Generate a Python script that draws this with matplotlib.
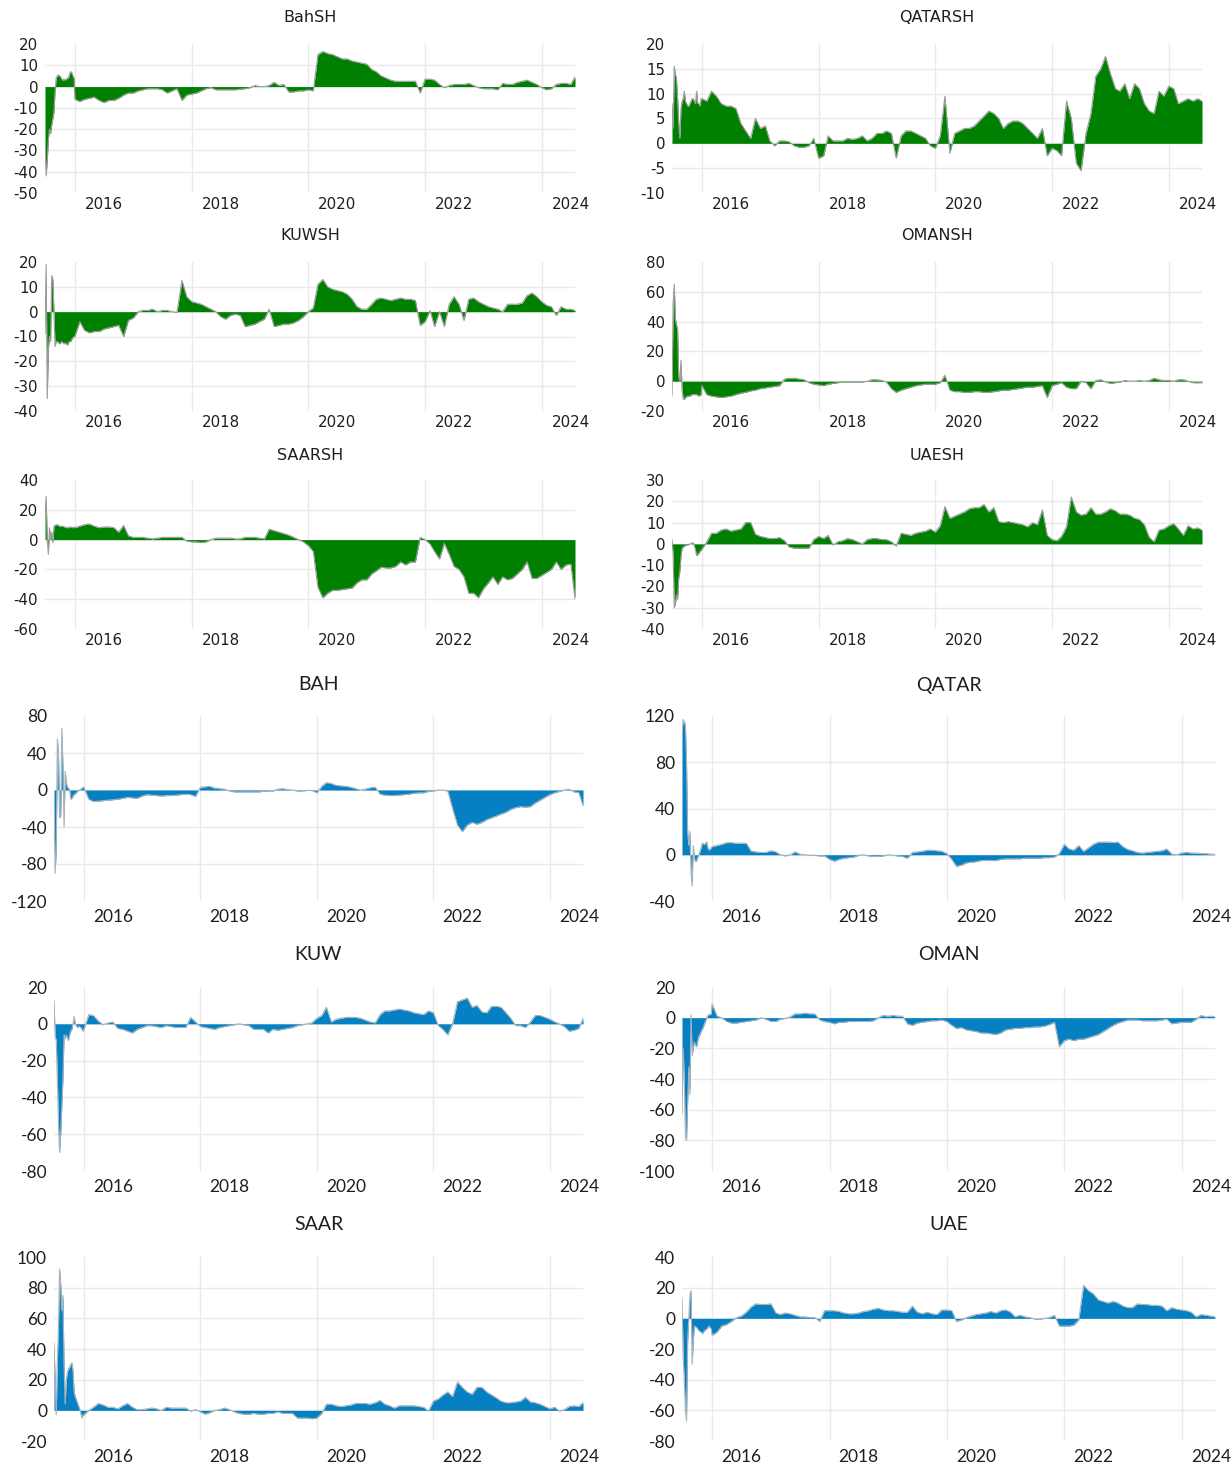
import numpy as np
import pandas as pd
import matplotlib
matplotlib.use('Agg')
import matplotlib.pyplot as plt
import matplotlib.dates as mdates
from matplotlib.ticker import FixedLocator, FixedFormatter, NullFormatter

# sample dates: weekly over the second half of 2015, month starts afterwards
weekly = pd.date_range('2015-06-28', periods=27, freq='7D')
monthly = pd.date_range('2016-01-01', '2024-07-01', freq='MS')
dates = weekly.append(monthly).append(pd.DatetimeIndex(['2024-07-27']))

# ---- spillover series (top block) ----
bahsh = [
    -28, -42, -35, -25, -20, -22, -18, -15, -12, -2, 4, 5, 5.5, 5, 4.5, 3.5, 3, 3.5, 3, 3.5, 4, 4, 6, 7, 6.5, 5, 4,
    -6, -7, -6, -5.5, -5, -6.5, -7.5, -6.5, -6.5, -5.5, -4, -3,
    -3, -2, -1.5, -1, -1, -1, -1.5, -3, -2, -1, -6.5, -4,
    -3.5, -3, -2, -1, -0.5, -1.5, -1.5, -1.5, -1.5, -1.5, -1.2, -1,
    -0.5, 0.5, 0, 0, 0.5, 2, 0.5, 1, -2.5, -2.5, -2, -2,
    -1.5, -2, 15, 16.5, 15.5, 15, 14, 13, 13, 12, 11.5, 11,
    10.5, 8, 7, 5, 4, 3, 2.5, 2.5, 2.5, 2.5, 2.5, -3,
    3.5, 3.5, 3, 1, -0.5, 0.5, 1, 1, 1, 1.5, 0.5, -0.5,
    -1, -1, -1, -1.5, 1.5, 1, 1, 2, 2.5, 3, 2, 1,
    -0.5, -1.5, -1, 1, 1.5, 1.5, 1, 4.5]

qatarsh = [
    8, 3, 15.5, 14, 13, 9, 4, 1, 7, 8.5, 9, 10.5, 8.5, 8, 7.5, 7.5, 8, 8.5, 9, 9, 8.5, 8, 10.5, 8, 8, 7.5, 9,
    9, 8.5, 10.5, 9.5, 8, 7.5, 7.5, 7, 4, 2.5, 1, 5,
    3, 3.5, 0.5, -0.5, 0.5, 0.5, 0.3, -0.5, -0.8, -0.8, -0.5, 1,
    -3, -2.5, 1.5, 0.5, 0.5, 0.5, 1, 0.8, 1, 1.5, 0.5, 1,
    2, 2, 2.5, 2, -3, 1.5, 2.5, 2.5, 2, 1.5, 1, -0.5,
    -1, 1.5, 9.5, -2, 2, 2.5, 3, 3, 3.5, 4.5, 5.5, 6.5,
    6, 5, 3, 4, 4.5, 4.5, 4, 3, 2, 1, 3, -2.5,
    -1, -1.5, -2.5, 8.5, 5, -4, -5.5, 2, 6, 13.5, 15, 17.5,
    14, 11, 10.5, 12, 9, 12, 11, 8, 6.5, 6, 10.5, 9.5,
    11.5, 11, 8, 8.5, 9, 8.5, 9, 8.5]

kuwsh = [
    -9, 19, -35, -15, -10, -12, 14.5, 13, 0, -14, -12, -12, -12.5, -13, -12.5, -12, -12.5, -13, -12.5, -13,
    -13.5, -12.5, -12, -12, -11, -10.5, -10,
    -10, -4, -7.5, -8.5, -8, -8, -7, -6.5, -6, -5.5, -10, -3.5,
    -2.5, 0, 0.5, 0.5, 1, 0, 0.5, 0.5, 0, -0.3, 12.5, 6,
    4, 3.5, 3, 2, 1, 0, -2, -3, -1.5, -1, -1.5, -6,
    -5.5, -5, -4, -3, 1, -6, -5.5, -5, -5, -4.5, -3.5, -2,
    0, 1.5, 11, 13, 10, 9, 8.5, 8, 7, 5, 2, 1,
    1, 3, 5, 5.5, 5, 4.5, 5, 5.5, 5, 5, 4.5, -5.5,
    -4, 0.5, -6, 0, -6, 3, 6, 3, -3.5, 5, 5.5, 4,
    3, 2, 1.5, 1, 0, 3, 3, 3, 3.5, 6.5, 7.5, 6,
    4, 2.5, 2, -1.5, 2, 1, 1, 0.5]

omansh = [
    -10, 52, 65, 42, 38, 35, 3, 0, 14, -5, -12, -12, -11, -10.5, -10, -10, -10, -9.5, -9, -9,
    -9, -9, -9, -9.5, -10, -9.5, -9,
    -3, -9, -10, -10.5, -11, -10.5, -10, -9, -8, -7.5, -6.5, -6,
    -5, -4.5, -4, -3.5, -3, 1.5, 2, 2, 1.5, 1, -1, -2,
    -2.5, -3, -2, -1.5, -1, -0.5, -0.5, -0.5, -0.5, -0.5, 0, 1,
    1, 0.5, -0.5, -5, -7.5, -6, -5, -4, -3, -2.5, -2, -2,
    -2, -1, 4, -6, -7, -7, -7.5, -7.5, -7, -7, -7.5, -7.5,
    -7, -6.5, -6, -6, -5.5, -5, -4.5, -4, -4, -3.5, -3, -11,
    -3, -2, -1, -4, -5, -5, 0, -1, -5, 0.5, 1, -0.5,
    -1.5, -1, -0.5, 0.5, 0, 0, 0.5, 0, 0.5, 2, 1, 0.5,
    0.5, 0, 1, 1, 0, -1, -1, -1]

saarsh = [
    15, 29, 0, -10, 8, 0, 5, -2, 9, 9.5, 10, 10, 9.5, 9, 9, 9, 9, 8.5, 8.5, 8, 8, 8, 8.5, 8.5, 8, 8, 8.5,
    8, 9, 10, 10.5, 9, 8, 8.5, 8.5, 8, 5, 9.5, 2.5,
    1.5, 1.5, 1.5, 1, 0.5, 1, 1.5, 1.5, 1.5, 1.5, 1.5, -1,
    -1.5, -1.5, -2, -1.5, 0, 1, 1, 1, 1, 0.5, 0.5, 1.5,
    1.5, 1.5, 1, 0.5, 7, 6, 5, 4, 3, 1.5, 0, -1.5,
    -4, -8, -32, -39, -36, -34, -34, -33.5, -33, -32.5, -29, -27,
    -27, -23, -21, -18.5, -19, -19, -18, -15, -17, -15, -15, 1.5,
    0, -3, -8, -13, -2.5, -10, -18, -20, -25, -36, -36, -39,
    -33, -29, -25, -30, -25, -27, -26, -23, -20, -15, -26, -26,
    -24, -22, -20, -15, -20, -17, -16.5, -40]

uaesh = [
    2, -5, -30, -28, -24, -26, -16, -13, -6, -2, -1.5, -1, -0.8, -0.5, -0.5, -0.3, 0, 0, 0.5, 0.5,
    -1, -3, -5.5, -5, -4.5, -3.5, -3,
    -2.5, 1, 5, 5, 6.5, 7, 6, 6.5, 7, 10, 10, 4.5,
    3.5, 3, 2.5, 2.5, 3, 1.5, -1.5, -2, -2, -2, -2, 2,
    3.5, 2.5, 4, -0.5, 1, 1.5, 2.5, 2, 1, 0, 2, 2.5,
    2.5, 2, 2, 1, -1, 5, 4.5, 4, 5, 5.5, 6, 7,
    5.5, 8.5, 17.5, 12, 13, 14, 15, 16.5, 17, 17, 18.5, 15,
    17, 10.5, 10, 10.5, 10, 9.5, 9, 8, 10, 9, 16, 4,
    2, 1.5, 3.5, 8, 22, 15, 13.5, 14, 17, 14, 14, 15,
    16.5, 15.5, 14, 14, 13.5, 12, 11.5, 9, 3, 1, 6.5, 7,
    8.5, 9.5, 7, 4, 8.5, 7, 7.5, 6.5]

# ---- market series (bottom block) ----
bah = [
    -20, -90, -65, 55, 40, -30, -28, 67, 25, -40, 20, 8, 3, 2, 0, -10, -9, -7, -5, -4,
    -3, -1.5, -0.5, 0, 1, 2, 3,
    3, -10, -12.5, -12, -11.5, -11, -10.5, -10, -9, -8, -8.5, -9,
    -6.5, -5, -5.5, -6, -6.5, -6, -6, -5.5, -5, -4.5, -5, -7,
    3, 3.5, 4, 2, 1.5, 1, -1, -2, -2, -2, -2, -2,
    -2, -1.5, -1, -1, 1, 1.5, 0.5, 0, -1, -1, -0.5, -0.5,
    -3, 4, 8, 7, 5, 4.5, 4, 3, 1.5, 0, 1, 2.5,
    3, -4.5, -5.5, -6, -6, -5.5, -5, -4.5, -3.5, -3, -3, -1.5,
    -1, 0, 0, -1, -20, -38, -45, -38, -35, -37, -35, -32,
    -30, -28, -26, -24, -21, -19, -18, -18.5, -18, -14, -11, -8,
    -5, -3, -1.5, 0, 1, -2, -3, -17]

qatar = [
    105, 117, 115, 112, 80, 20, 8, 20, -15, -27, 8, -3, -6, -5, -2, 0, 3, 6, 10, 9.5,
    9, 10, 11, 6, 4, 5, 6,
    7, 8, 9, 10.5, 10.5, 10, 10, 10, 3, 2.5, 2, 2,
    3.5, 2.5, 0, -1, 0, 2.5, 0.5, 0, -0.5, -0.5, -1, -1,
    -4, -5.5, -4, -3, -2.5, -2, -0.5, 0, -1, -1.5, -1.5, -1,
    0, -0.5, -1, -1.5, -3, 2, 2.5, 3, 4, 4, 3.5, 3,
    1, -4, -10, -9, -7, -6.5, -6, -5, -5, -5, -5, -4,
    -3.5, -3.5, -3.5, -3.5, -3, -3, -3, -3, -2.5, -2.5, -2, 1,
    9, 5, 4, 8, 3, 6, 9, 11, 11, 11, 10.5, 11,
    7, 4.5, 3.5, 2, 1.5, 2, 2.5, 3, 3.5, 5, 0.5, 0,
    1.5, 2, 1.5, 1.5, 1, 1, 0.5, 0.5]

kuw = [
    13, -7, -9, -30, -55, -70, -60, -45, -30, -6, -8, -6, -8, -9, -6, -4, -3, 0, 4, 0,
    -1, -2, -1.5, -1.5, -2, -3, -4,
    -3, 5, 4.5, 1.5, -0.5, 0.5, 1, -2.5, -3, -4, -5, -3,
    -2, -1, -1, -1.5, -2, -1, -1.5, -2, -2, -2, 3.5, 1,
    -1.5, -2, -2.5, -3, -2, -1.5, -1, -0.5, 0, -0.5, -1, -3,
    -3, -3, -5, -3, -3.5, -3, -2.5, -2, -1, -0.5, 0, 0.5,
    3, 4.5, 9, 1, 2.5, 3, 3.5, 3.5, 3.5, 3, 2, 1,
    0.5, 5, 7, 7, 7.5, 8, 7.5, 7, 6, 5.5, 5, 7,
    6, -1, -3, -6, 0, 12, 13, 14, 9, 10, 6.5, 6,
    9.5, 9.5, 9, 6, 3, -1, -1, -2, 1, 4.5, 4.5, 3.5,
    2.5, 1, 0, -1.5, -4, -3.5, -2.5, 3]

oman = [
    -63, -20, -40, -78, -80, -55, -32, -50, 2, -25, -20, -16, -18, -19, -15, -12, -11, -9, -7.5, -6,
    -4, -2, 0, 1.5, 2, 2, 2.5,
    9, 1, 0, -2.5, -3.5, -3.5, -3, -2.5, -2, -1.5, 0, -1,
    -2.5, -2.5, -1, -0.5, 0.5, 2.5, 2.5, 3, 2.5, 2.5, -1.5, -2.5,
    -3, -4, -3, -3, -2.5, -2.5, -2.5, -2.5, -2.5, -2, 0, 1.5,
    1, 1.5, 1, 1, -4, -5, -3.5, -3, -2.5, -2, -2, -1.5,
    -2.5, -5, -7, -6.5, -8, -8.5, -9, -10, -10, -10.5, -11, -10,
    -8, -7.5, -7, -7, -6.5, -6.5, -6, -6, -5.5, -4.5, -3, -19,
    -15, -14, -15, -14, -14, -13, -12, -11, -9, -7, -5, -3.5,
    -2.5, -1.5, -1.5, -1.5, -2, -2, -2, -2, -1.5, -1, -4, -3.5,
    -3, -3, -3, -1, 1.5, 0.5, 1, 0.5]

saar = [
    44, 20, -3, 32, 55, 92, 82, 65, 75, 30, 4, 20, 25, 27, 28, 30, 31, 26, 12, 9,
    7, 5, 3, 1, -2, -5, -3,
    -3, 0, 2, 4.5, 3.5, 2, 2, 1, 3, 4.5, 2, 0.5,
    0.5, 1, 1.5, 1, 0, 2, 1.5, 1.5, 1.5, 1.5, -0.5, 0.5,
    -1, -2.5, -1.5, 0, 0.5, 1.5, 0.5, -1, -2, -2.5, -2.5, -2,
    -2.5, -2.5, -2, -2, -1, -2, -2, -2, -5, -5, -5, -5.5,
    -5, -2, 4, 4, 3, 2.5, 3, 3.5, 4.5, 4.5, 4.5, 4,
    5, 6.5, 4, 3, 1.5, 3, 3, 3, 3, 2.5, 2, -0.5,
    6, 7.5, 10, 12, 9, 18.5, 15, 12, 10.5, 15, 15, 12,
    10, 8, 6, 5, 5, 5.5, 6, 8.5, 5.5, 5, 4, 2.5,
    1, 2, -0.5, 0.5, 2.5, 3, 2.5, 5]

uae = [
    13, -25, -40, -60, -67, -15, 0, 15, 18, -30, -15, -5, -5.5, -6, -7, -8, -8.5, -9, -10, -9,
    -8, -7.5, -7, -6, -5, -6, -7,
    -11, -9, -5, -4, -2, 0.5, 1.5, 4, 7.5, 9.5, 9, 9,
    9.5, 3.5, 2.5, 3.5, 3, 2, 1, 1, 0.5, 0.5, -2, 5,
    5, 5, 4.5, 3.5, 3, 3, 3.5, 4.5, 5, 6, 6.5, 5.5,
    5, 5, 4.5, 4, 4, 8, 4, 3, 4, 3, 2.5, 5.5,
    5.5, 5, -2, -1, 0.5, 1.5, 2.5, 3, 3.5, 4.5, 3.5, 5,
    5.5, 4, 1, 2, 1, 0.5, -0.5, -0.5, 0, 0.5, 2, -5,
    -5, -5, -4.5, -1, 21.5, 18, 16, 12, 11, 10, 11, 10,
    8, 7, 7, 9.5, 9, 9, 8.5, 8.5, 8, 5, 7, 6,
    5.5, 5, 4, 1, 2.5, 2, 1.5, 1]

W, H = 1232, 1466
GREEN = '#008000'
BLUE = '#0580c3'
GRID = '#e9e9e9'

# horizontal extent (px) of each column in both blocks, vertical extent of each row
cols = {'TL': (45, 575), 'TR': (672, 1202), 'BL': (54, 583), 'BR': (682, 1215)}
rows = [(44, 193), (262, 411), (480, 629), (716, 901), (987, 1171), (1257, 1441)]
title_y = [18, 236, 455, 685, 955, 1225]

panels = [
    ('BahSH', bahsh, range(-50, 21, 10), 'TL', 0),
    ('QATARSH', qatarsh, range(-10, 21, 5), 'TR', 0),
    ('KUWSH', kuwsh, range(-40, 21, 10), 'TL', 1),
    ('OMANSH', omansh, range(-20, 81, 20), 'TR', 1),
    ('SAARSH', saarsh, range(-60, 41, 20), 'TL', 2),
    ('UAESH', uaesh, range(-40, 31, 10), 'TR', 2),
    ('BAH', bah, range(-120, 81, 40), 'BL', 3),
    ('QATAR', qatar, range(-40, 121, 40), 'BR', 3),
    ('KUW', kuw, range(-80, 21, 20), 'BL', 4),
    ('OMAN', oman, range(-100, 21, 20), 'BR', 4),
    ('SAAR', saar, range(-20, 101, 20), 'BL', 5),
    ('UAE', uae, range(-80, 41, 20), 'BR', 5),
]

years = [2016, 2018, 2020, 2022, 2024]
x = mdates.date2num(dates.to_pydatetime())
x0 = mdates.date2num(pd.Timestamp('2015-06-28').to_pydatetime())
x1 = mdates.date2num(pd.Timestamp('2024-07-27').to_pydatetime())
year_starts = [mdates.date2num(pd.Timestamp(f'{yr}-01-01').to_pydatetime()) for yr in years]
year_mids = [mdates.date2num(pd.Timestamp(f'{yr}-07-01').to_pydatetime()) for yr in years]

fig = plt.figure(figsize=(W / 100, H / 100), dpi=100)

for name, vals, ticks, col, row in panels:
    assert len(vals) == len(dates), name
    l, r = cols[col]
    t, b = rows[row]
    big = row >= 3
    ax = fig.add_axes([l / W, 1 - b / H, (r - l) / W, (b - t) / H])
    y = np.array(vals, dtype=float)

    fill = BLUE if big else GREEN
    edge = '#a9b3bc' if big else '#9c9c9c'
    ax.fill_between(x, y, 0, color=fill, lw=0, zorder=2)
    ax.plot(x, y, color=edge, lw=0.8, zorder=3)

    ticks = list(ticks)
    ax.set_xlim(x0, x1)
    ax.set_ylim(ticks[0], ticks[-1])
    for v in ticks[1:-1]:
        ax.axhline(v, color=GRID, lw=1, zorder=0)
    for v in year_starts:
        ax.axvline(v, color=GRID, lw=1, zorder=0)

    ax.xaxis.set_major_locator(FixedLocator(year_starts))
    ax.xaxis.set_major_formatter(NullFormatter())
    ax.xaxis.set_minor_locator(FixedLocator(year_mids))
    ax.xaxis.set_minor_formatter(FixedFormatter([str(yr) for yr in years]))
    ax.set_yticks(ticks)
    ax.set_yticklabels([str(v) for v in ticks])

    if big:
        tfont = dict(family='Lato', size=12.5, color='#1e1e1e')
        ax.tick_params(axis='x', which='minor', pad=6)
    else:
        tfont = dict(family='DejaVu Sans', size=10.8, color='#1e1e1e')
        ax.tick_params(axis='x', which='minor', pad=3)
    ax.tick_params(which='both', length=0)
    ax.tick_params(axis='y', pad=5)
    for lab in ax.get_xticklabels(minor=True) + ax.get_yticklabels():
        lab.set_fontfamily(tfont['family'])
        lab.set_fontsize(tfont['size'])
        lab.set_color(tfont['color'])

    for s in ax.spines.values():
        s.set_visible(False)
    ax.set_facecolor('white')

    if big:
        fig.text((l + r) / 2 / W, 1 - title_y[row] / H, name, ha='center', va='center',
                 family='Lato', fontsize=14, color='#1e1e1e')
    else:
        fig.text((l + r) / 2 / W, 1 - title_y[row] / H, name, ha='center', va='center',
                 family='DejaVu Sans', fontsize=11.5, color='#1e1e1e')

fig.savefig('out.png', dpi=100, facecolor='white')
